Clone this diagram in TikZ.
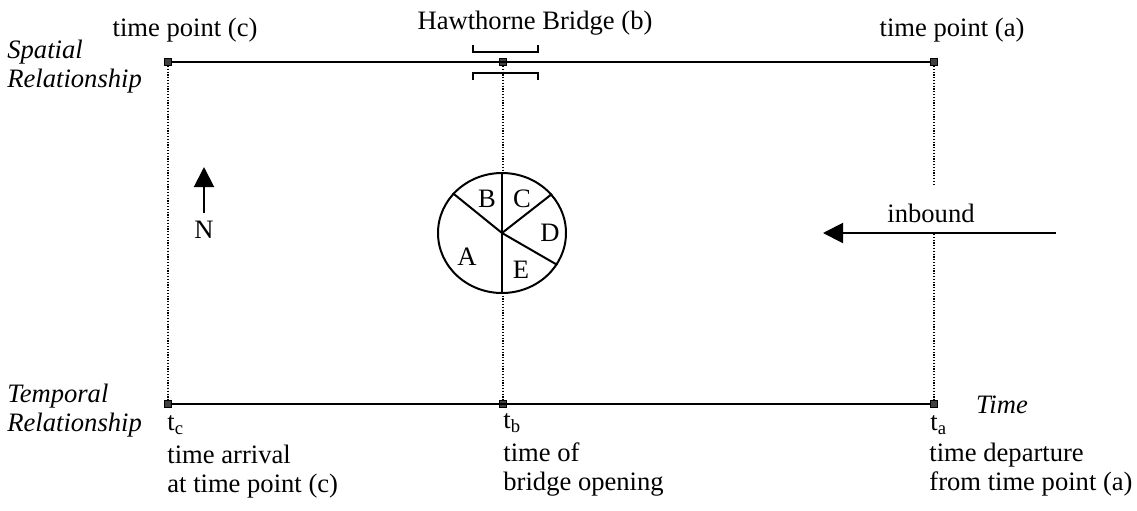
\documentclass[tikz,border=0pt]{standalone}
\usepackage{fontspec}
\setmainfont{Liberation Serif}
\usetikzlibrary{arrows.meta,shapes.geometric}

\begin{document}
\begin{tikzpicture}[x=0.5pt, y=-0.5pt, >={Triangle[length=10pt,width=10pt]},
  every node/.style={font=\fontsize{13.3}{14.5}\selectfont, inner sep=0pt},
  knot/.style={draw, fill=black!75, minimum size=3.5pt, inner sep=0pt},
  axis/.style={line width=1pt},
  guide/.style={line width=0.7pt, dash pattern=on 0.6pt off 0.8pt},
  lbl/.style={align=left, anchor=base west},
  slant/.style={align=left, anchor=base west, font=\fontsize{13.3}{14.5}\selectfont\itshape}]
\useasboundingbox (0,0) rectangle (1137,510);
% time points on both lines
\node[knot] (pc) at (168,62) {};
\node[knot] (pb) at (503,62) {};
\node[knot] (pa) at (934,62) {};
\node[knot] (tc) at (168,404) {};
\node[knot] (tb) at (503,404) {};
\node[knot] (ta) at (934,404) {};
\draw[guide] (pc) -- (tc);
\draw[guide] (pb) -- (tb);
\draw[guide] (pa) -- (ta);
\draw[axis] (pc) -- (pa);
\draw[axis] (tc) -- (ta);
% bridge span
\draw[line width=0.8pt] (473,45) -- (473,52) -- (538,52) -- (538,45);
\draw[line width=0.8pt] (473,80) -- (473,73) -- (538,73) -- (538,80);
% sectors
\node[draw, ellipse, fill=white, line width=1pt, minimum width=64pt, minimum height=60pt] (wheel) at (502,233) {};
\draw[line width=1pt] (wheel.north) -- (wheel.south);
\draw[line width=1pt] (wheel.center) -- (wheel.141);
\draw[line width=1pt] (wheel.center) -- (wheel.38);
\draw[line width=1pt] (wheel.center) -- (wheel.-30);
\node (secA) at (467,257) {A};
\node (secB) at (487,199) {B};
\node (secC) at (522,199) {C};
\node (secD) at (550,233) {D};
\node (secE) at (521,270) {E};
% north
\node (north) at (204,230) {N};
\coordinate (ntip) at (204,167);
\draw[->, axis, shorten <=4pt] (north) -- (ntip);
% direction of travel
\node[fill=white, anchor=base, inner xsep=1pt, text height=18pt, text depth=5pt] (inb) at (931,222) {inbound};
\coordinate (instart) at (1056,233);
\coordinate (inend) at (823,233);
\draw[->, axis] (instart) -- (inend);
% labels
\node[anchor=base] (lpc) at (185,36) {time point (c)};
\node[anchor=base] (lbridge) at (535,29) {Hawthorne Bridge (b)};
\node[anchor=base] (lpa) at (952,36) {time point (a)};
\node[slant] (spatial) at (7,87) {Spatial\\Relationship};
\node[slant] (temporal) at (7,431) {Temporal\\Relationship};
\node[slant, anchor=base] (time) at (1002,413) {Time};
\node[lbl] (ltc) at (167,430) {t\textsubscript{c}};
\node[lbl] (ltb) at (503,428) {t\textsubscript{b}};
\node[lbl] (lta) at (930,430) {t\textsubscript{a}};
\node[lbl] (dtc) at (167,492) {time arrival\\at time point (c)};
\node[lbl] (dtb) at (503,490) {time of\\bridge opening};
\node[lbl] (dta) at (929,490) {time departure\\from time point (a)};
\end{tikzpicture}
\end{document}
